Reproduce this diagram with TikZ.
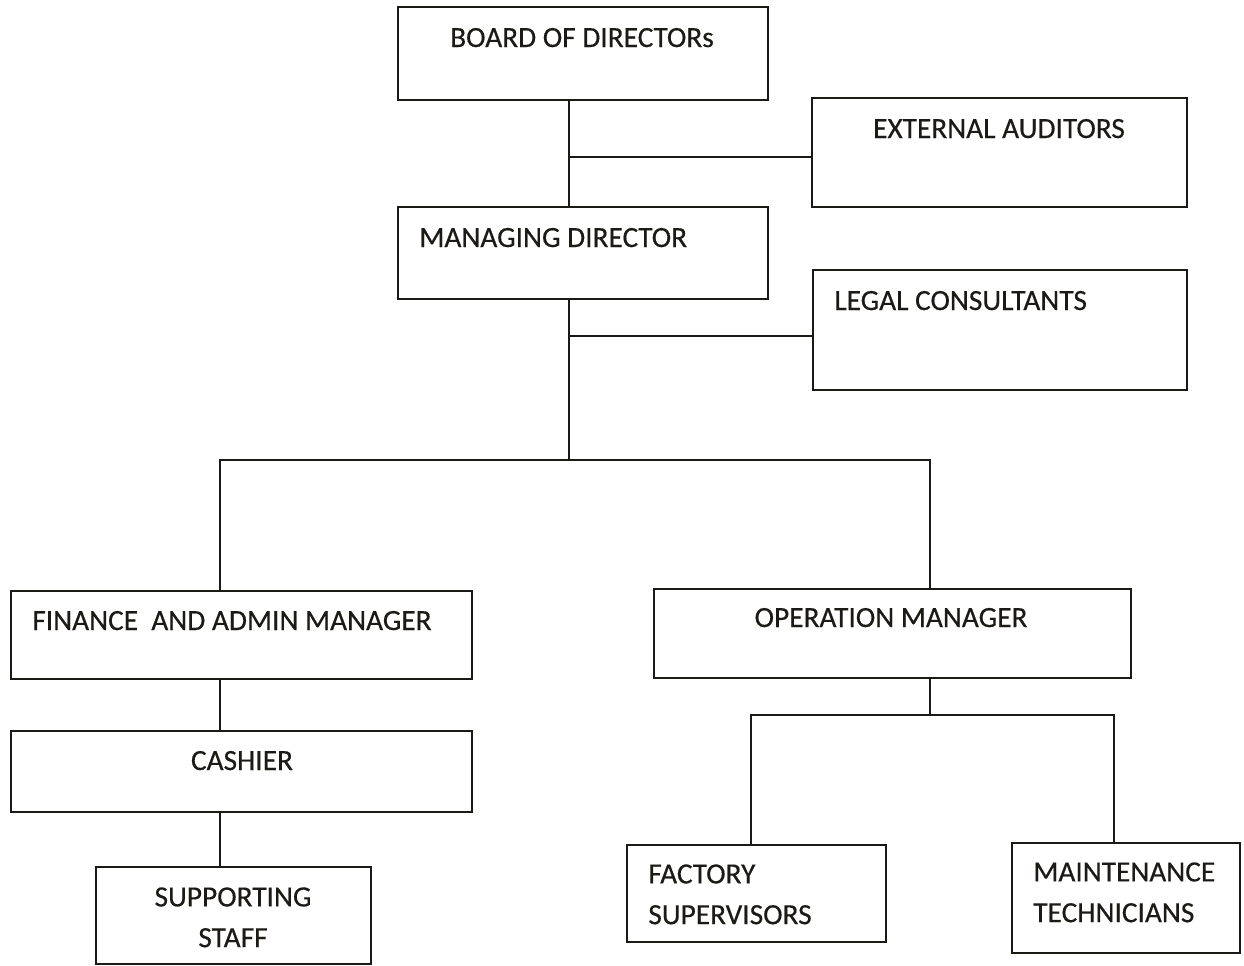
\documentclass[tikz,border=0pt]{standalone}
\usepackage{fontspec}
\setmainfont{Carlito}
\newfontfamily\chartfont[FakeBold=0.4]{Carlito}
\usepackage{tikz}

\begin{document}
\begin{tikzpicture}[
  x=0.02cm, y=-0.02cm,
  box/.style={draw=ink, line width=1.1pt, rectangle, inner sep=0pt, outer sep=0pt, anchor=north west},
  link/.style={draw=ink, line width=1.1pt},
  lab/.style={inner sep=0pt, text=ink, font=\chartfont\fontsize{16.7}{23.2}\selectfont}
]
\definecolor{ink}{RGB}{28,26,22}
\useasboundingbox (0,0) rectangle (1244,965);

% ===================== Top management =====================
    % Boxes
    \node[box, minimum width=7.40cm, minimum height=1.86cm] (bod)   at (398,7)   {};
    \node[box, minimum width=7.50cm, minimum height=2.18cm] (ext)   at (812,98)  {};
    \node[box, minimum width=7.40cm, minimum height=1.84cm] (md)    at (398,207) {};
    \node[box, minimum width=7.48cm, minimum height=2.40cm] (legal) at (813,270) {};

    % Labels
    \node[lab, anchor=base]      (bodT)   at (582,47)  {BOARD OF DIRECTORs};
    \node[lab, anchor=base]      (extT)   at (999,138) {EXTERNAL AUDITORS};
    \node[lab, anchor=base west] (mdT)    at (419,247) {MANAGING DIRECTOR};
    \node[lab, anchor=base west] (legalT) at (834,310) {LEGAL CONSULTANTS};

    % Junctions
    \coordinate (j1) at (569,157);
    \coordinate (j2) at (569,336);
    \coordinate (spine) at (569,460);
    \coordinate (lbr) at (220,460);
    \coordinate (rbr) at (930,460);

    \draw[link] (bod.south -| j1) -- (md.north -| j1);
    \draw[link] (j1) -- (j1 -| ext.west);
    \draw[link] (md.south -| j2) -- (spine);
    \draw[link] (j2) -- (j2 -| legal.west);

% ===================== Finance side =====================
    \node[box, minimum width=9.22cm, minimum height=1.76cm] (fin)   at (11,591)  {};
    \node[box, minimum width=9.22cm, minimum height=1.62cm] (cash)  at (11,731)  {};
    \node[box, minimum width=5.50cm, minimum height=1.94cm] (staff) at (96,867)  {};

    \node[lab, anchor=base west] (finT)   at (32,630)  {FINANCE\ \ AND ADMIN MANAGER};
    \node[lab, anchor=base]      (cashT)  at (242,770) {CASHIER};
    \node[lab, anchor=north, align=center] (staffT) at (233,887) {SUPPORTING\\STAFF};

    \draw[link] (fin.south -| lbr) -- (cash.north -| lbr);
    \draw[link] (cash.south -| lbr) -- (staff.north -| lbr);

% ===================== Operations side =====================
    \node[box, minimum width=9.54cm, minimum height=1.78cm] (ops)   at (654,589)  {};
    \node[box, minimum width=5.18cm, minimum height=1.94cm] (fact)  at (627,845)  {};
    \node[box, minimum width=4.56cm, minimum height=2.20cm] (maint) at (1012,843) {};

    \node[lab, anchor=base]      (opsT)   at (891,627) {OPERATION MANAGER};
    \node[lab, anchor=north west, align=left] (factT)  at (648,864)  {FACTORY\\SUPERVISORS};
    \node[lab, anchor=north west, align=left] (maintT) at (1033,862) {MAINTENANCE\\TECHNICIANS};

    \coordinate (obr) at (930,715);
    \coordinate (fl) at (751,715);
    \coordinate (fr) at (1114,715);

    \draw[link] (ops.south -| obr) -- (obr);
    \draw[link] (fact.north -| fl) -- (fl) -- (fr) -- (maint.north -| fr);

    % Branch from the managing director down to both managers
    \draw[link] (fin.north -| lbr) -- (lbr) -- (rbr) -- (ops.north -| rbr);

\end{tikzpicture}
\end{document}
